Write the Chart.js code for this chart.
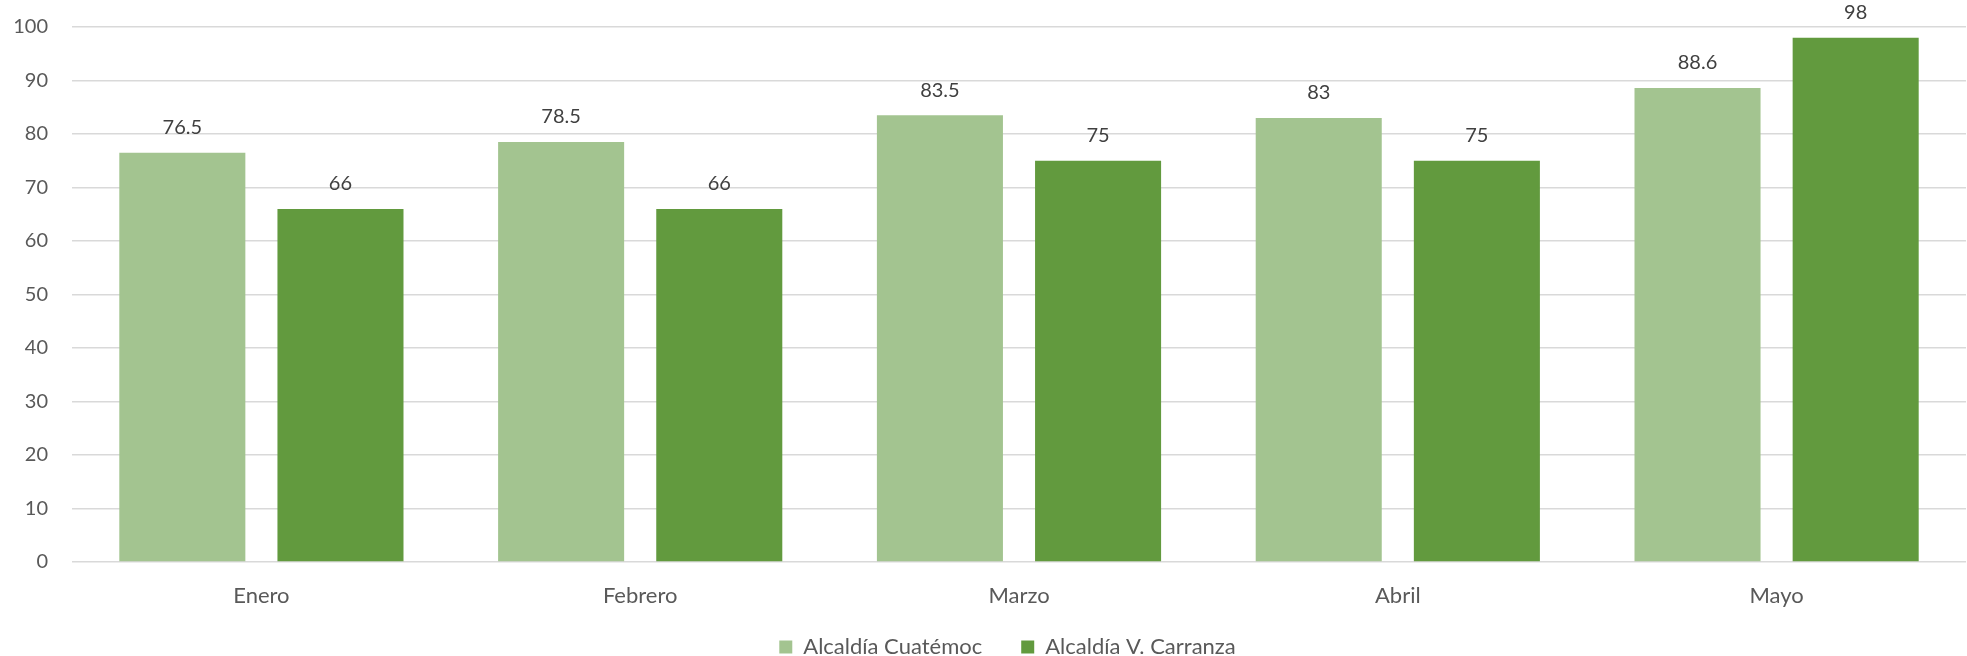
<!DOCTYPE html>
<html>
<head>
<meta charset="utf-8">
<script src="https://cdn.jsdelivr.net/npm/chart.js@4"></script>
<style>
  html, body { margin: 0; padding: 0; background: #fff; }
  #wrap { width: 1967px; height: 656px; }
</style>
</head>
<body>
<div id="wrap"><canvas id="barAlcaldias"></canvas></div>
<script>
var meses = ['Enero', 'Febrero', 'Marzo', 'Abril', 'Mayo'];
var cuauhtemoc = [76.5, 78.5, 83.5, 83, 88.6];
var carranza = [66, 66, 75, 75, 98];
var yTicks = [0, 10, 20, 30, 40, 50, 60, 70, 80, 90, 100];

var fuente = 'Lato, "Open Sans", sans-serif';

// etiquetas de valor arriba de cada barra
const valorEtiquetas = {
  id: 'valorEtiquetas',
  afterDatasetsDraw(chart) {
    const ctx = chart.ctx;
    ctx.save();
    ctx.font = '20px ' + fuente;
    ctx.fillStyle = '#404040';
    ctx.textAlign = 'center';
    ctx.textBaseline = 'middle';
    chart.data.datasets.forEach((ds, i) => {
      chart.getDatasetMeta(i).data.forEach((bar, j) => {
        ctx.fillText(String(ds.data[j]), bar.x, bar.y - 25);
      });
    });
    ctx.restore();
  }
};

// mueve la leyenda un poco (centrada sobre el area de barras como en excel)
// el bottom se queda igual porque la leyenda recorta a su caja
const moverLeyenda = {
  id: 'moverLeyenda',
  afterLayout(chart) {
    const lg = chart.legend;
    lg.left += 49;
    lg.top -= 13;
  }
};

const ctxBar = document.getElementById('barAlcaldias');

new Chart(ctxBar, {
  type: 'bar',
  data: {
    labels: meses,
    datasets: [
      {
        label: 'Alcaldía Cuatémoc',
        data: cuauhtemoc,
        backgroundColor: '#A3C490',
        categoryPercentage: 0.835,
        barPercentage: 0.797
      },
      {
        label: 'Alcaldía V. Carranza',
        data: carranza,
        backgroundColor: '#629A3E',
        categoryPercentage: 0.835,
        barPercentage: 0.797
      }
    ]
  },
  options: {
    responsive: true,
    maintainAspectRatio: false,
    animation: false,
    layout: { padding: { top: 27, right: 1, left: 0, bottom: 0 } },
    plugins: {
      tooltip: { enabled: false },
      legend: {
        position: 'bottom',
        maxHeight: 46,
        labels: {
          boxWidth: 13,
          boxHeight: 13,
          padding: 39,
          color: '#595959',
          font: { family: fuente, size: 22 }
        }
      }
    },
    scales: {
      x: {
        grid: { display: false, drawTicks: true, tickLength: 21, tickColor: 'transparent' },
        border: { display: false },
        ticks: { color: '#595959', padding: 0, font: { family: fuente, size: 22 } },
        afterFit(scale) { scale.height = 48; }
      },
      y: {
        min: 0,
        max: 100,
        afterBuildTicks(scale) { scale.ticks = yTicks.map(v => ({ value: v })); },
        grid: { color: '#D9D9D9', lineWidth: 1.5, drawTicks: true, tickLength: 24, tickColor: 'transparent' },
        border: { display: false },
        ticks: { color: '#595959', padding: 0, font: { family: fuente, size: 20 } },
        afterFit(scale) { scale.width = 72; }
      }
    }
  },
  plugins: [valorEtiquetas, moverLeyenda]
});
</script>
</body>
</html>
